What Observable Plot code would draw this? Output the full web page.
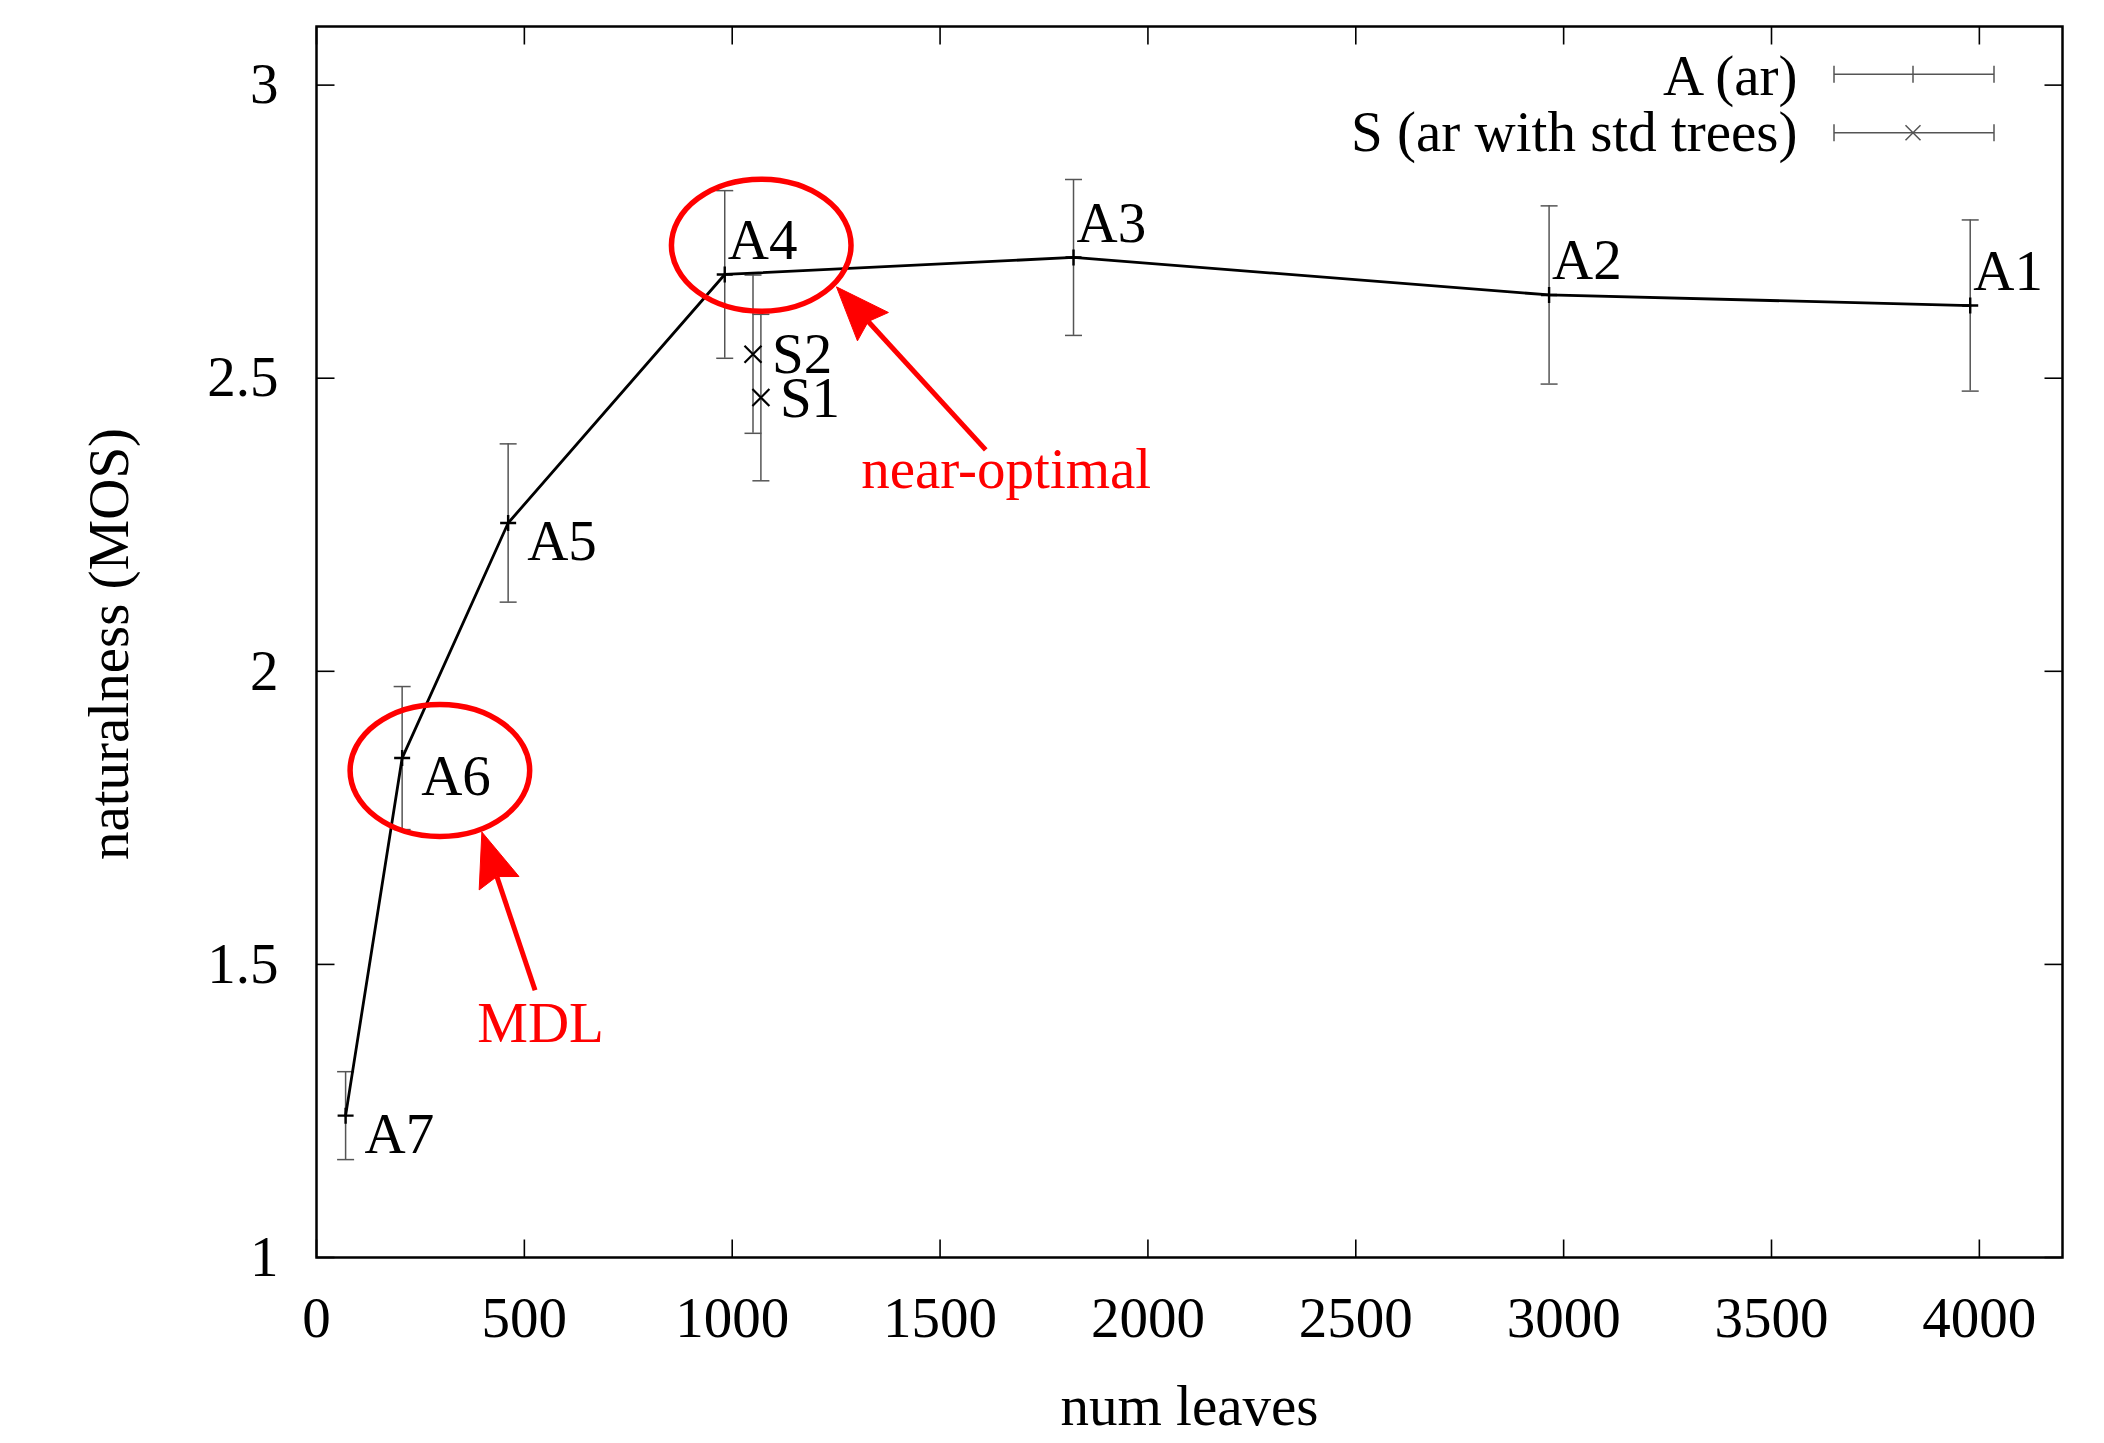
<!DOCTYPE html>
<html>
<head>
<meta charset="utf-8">
<script src="https://cdn.jsdelivr.net/npm/d3@7"></script>
<script src="https://cdn.jsdelivr.net/npm/@observablehq/plot@0.6"></script>
<style>
  html, body { margin: 0; padding: 0; background: #fff; }
  #chart svg { display: block; }
</style>
</head>
<body>
<div id="chart"></div>
<script>
// ---- data: series A (ar) ----
const aNames  = ["A7", "A6", "A5", "A4", "A3", "A2", "A1"];
const aLeaves = [70, 206, 461, 982, 1821, 2965, 3978];
const aMos    = [1.242, 1.852, 2.253, 2.677, 2.706, 2.642, 2.624];
const aErr    = [0.075, 0.122, 0.135, 0.143, 0.133, 0.152, 0.146];

// ---- data: series S (ar with std trees) ----
const sNames  = ["S2", "S1"];
const sLeaves = [1050, 1069];
const sMos    = [2.541, 2.467];
const sErr    = [0.135, 0.142];

// point labels drawn above their point (others sit below-right)
const labelsAbove = ["A4", "A3", "A2", "A1"];

// ---- axes ----
const xDomain = [0, 4200];
const yDomain = [1, 3.1];
const xTicks = [0, 500, 1000, 1500, 2000, 2500, 3000, 3500, 4000];
const yTicks = [1, 1.5, 2, 2.5, 3];
const xTitle = "num leaves";
const yTitle = "naturalness (MOS)";
const seriesNames = ["A (ar)", "S (ar with std trees)"];

// ---- annotations (data units) ----
const ellipseCx = [1071, 298];
const ellipseCy = [2.726, 1.830];
const ellipseRx = [216, 216];
const ellipseRy = [0.1126, 0.1126];
const arrowX1 = [1611, 527];
const arrowY1 = [2.377, 1.455];
const arrowX2 = [1252, 399];
const arrowY2 = [2.655, 1.725];
const noteText = ["near-optimal", "MDL"];
const noteX = [1659, 539];
const noteY = [2.344, 1.399];

// ---- tables ----
const aData = aNames.map((name, i) => ({name, leaves: aLeaves[i], mos: aMos[i], err: aErr[i]}));
const sData = sNames.map((name, i) => ({name, leaves: sLeaves[i], mos: sMos[i], err: sErr[i]}));
const notes = noteText.map((text, i) => ({text, x: noteX[i], y: noteY[i]}));

const FONT = "Liberation Serif";
const FS = 57;
const ERR = "#555";
const RED = "#ff0000";

// custom symbols
const sym = (segs) => ({draw(c) { for (const [x1, y1, x2, y2] of segs) { c.moveTo(x1, y1); c.lineTo(x2, y2); } }});
const plusSym  = sym([[-8, 0, 8, 0], [0, -8, 0, 8]]);
const timesSym = sym([[-8.5, -8.5, 8.5, 8.5], [-8.5, 8.5, 8.5, -8.5]]);
const capSym   = sym([[-8.5, 0, 8.5, 0]]);
const TL = 18;
const tickUp    = sym([[0, 0, 0, -TL]]);
const tickDown  = sym([[0, 0, 0, TL]]);
const tickRight = sym([[0, 0, TL, 0]]);
const tickLeft  = sym([[0, 0, -TL, 0]]);

function customMark(draw) {
  return function (...args) {
    const scales = args.find(a => a && typeof a.x === "function" && typeof a.y === "function");
    const dims = args.find(a => a && typeof a.width === "number" && typeof a.marginLeft === "number");
    const g = d3.create("svg:g");
    draw(g, scales, dims);
    return g.node();
  };
}

const ellipses = customMark((g, s) => {
  ellipseCx.forEach((cx, i) => {
    const px = s.x(cx), py = s.y(ellipseCy[i]);
    g.append("ellipse")
      .attr("cx", px).attr("cy", py)
      .attr("rx", Math.abs(s.x(cx + ellipseRx[i]) - px))
      .attr("ry", Math.abs(s.y(ellipseCy[i] + ellipseRy[i]) - py))
      .attr("fill", "none").attr("stroke", RED).attr("stroke-width", 5.5);
  });
});

const arrows = customMark((g, s) => {
  const L = 54, W = 21, N = 47;
  arrowX1.forEach((x1v, i) => {
    const x1 = s.x(x1v), y1 = s.y(arrowY1[i]);
    const x2 = s.x(arrowX2[i]), y2 = s.y(arrowY2[i]);
    const len = Math.hypot(x2 - x1, y2 - y1);
    const ux = (x2 - x1) / len, uy = (y2 - y1) / len;
    const nx = -uy, ny = ux;
    g.append("line")
      .attr("x1", x1).attr("y1", y1)
      .attr("x2", x2 - ux * N).attr("y2", y2 - uy * N)
      .attr("stroke", RED).attr("stroke-width", 5);
    const pts = [
      [x2, y2],
      [x2 - ux * L + nx * W, y2 - uy * L + ny * W],
      [x2 - ux * N, y2 - uy * N],
      [x2 - ux * L - nx * W, y2 - uy * L - ny * W]
    ];
    g.append("path").attr("d", "M" + pts.map(p => p.join(",")).join("L") + "Z")
      .attr("fill", RED).attr("stroke", RED).attr("stroke-width", 1);
  });
});

const legendSamples = customMark((g, s, d) => {
  const right = d.width - d.marginRight, top = d.marginTop;
  const rows = [{dy: 48.3, sym: "plus"}, {dy: 106.7, sym: "times"}];
  const xa = right - 228, xb = right - 68, xm = right - 149;
  const gg = g.attr("fill", "none").attr("stroke", ERR).attr("stroke-width", 1.5);
  for (const r of rows) {
    const y = top + r.dy;
    gg.append("line").attr("x1", xa).attr("x2", xb).attr("y1", y).attr("y2", y);
    gg.append("line").attr("x1", xa).attr("x2", xa).attr("y1", y - 8.5).attr("y2", y + 8.5);
    gg.append("line").attr("x1", xb).attr("x2", xb).attr("y1", y - 8.5).attr("y2", y + 8.5);
    if (r.sym === "plus") {
      gg.append("line").attr("x1", xm).attr("x2", xm).attr("y1", y - 8.5).attr("y2", y + 8.5);
    } else {
      gg.append("path").attr("d", `M${xm-7.5},${y-7.5}L${xm+7.5},${y+7.5}M${xm-7.5},${y+7.5}L${xm+7.5},${y-7.5}`);
    }
  }
});

const errMarks = (data) => [
  Plot.ruleX(data, {x: "leaves", y1: d => d.mos - d.err, y2: d => d.mos + d.err, stroke: ERR, strokeWidth: 1.5}),
  Plot.dot(data, {x: "leaves", y: d => d.mos - d.err, symbol: capSym, fill: "none", stroke: ERR, strokeWidth: 1.5}),
  Plot.dot(data, {x: "leaves", y: d => d.mos + d.err, symbol: capSym, fill: "none", stroke: ERR, strokeWidth: 1.5})
];

const chart = Plot.plot({
  width: 2104,
  height: 1443,
  marginLeft: 316,
  marginRight: 42,
  marginTop: 26,
  marginBottom: 186,
  style: {background: "white", fontFamily: FONT, color: "black"},
  x: {domain: xDomain, label: null},
  y: {domain: yDomain, label: null},
  marks: [
    Plot.axisX({ticks: xTicks, tickSize: 0, tickPadding: 39, tickFormat: d => String(d), fontSize: FS, fontFamily: FONT, label: null}),
    Plot.axisY({ticks: yTicks, tickSize: 0, tickPadding: 38, tickFormat: d => String(d), fontSize: FS, fontFamily: FONT, label: null}),
    // inner (mirrored) ticks
    Plot.dot(xTicks, {x: d => d, y: () => yDomain[0], symbol: tickUp, fill: "none", stroke: "black", strokeWidth: 1.6}),
    Plot.dot(xTicks, {x: d => d, y: () => yDomain[1], symbol: tickDown, fill: "none", stroke: "black", strokeWidth: 1.6}),
    Plot.dot(yTicks, {y: d => d, x: () => xDomain[0], symbol: tickRight, fill: "none", stroke: "black", strokeWidth: 1.6}),
    Plot.dot(yTicks, {y: d => d, x: () => xDomain[1], symbol: tickLeft, fill: "none", stroke: "black", strokeWidth: 1.6}),
    // error bars
    ...errMarks(aData),
    ...errMarks(sData),
    // series A line and markers
    Plot.line(aData, {x: "leaves", y: "mos", stroke: "black", strokeWidth: 2.8}),
    Plot.dot(aData, {x: "leaves", y: "mos", symbol: plusSym, fill: "none", stroke: "black", strokeWidth: 2.4}),
    // series S markers
    Plot.dot(sData, {x: "leaves", y: "mos", symbol: timesSym, fill: "none", stroke: "black", strokeWidth: 2.2}),
    // point labels
    Plot.text(aData.filter(d => !labelsAbove.includes(d.name)), {x: "leaves", y: "mos", text: "name", textAnchor: "start", dx: 19, dy: 19, fontSize: FS, fontFamily: FONT, fill: "black"}),
    Plot.text(aData.filter(d => labelsAbove.includes(d.name)), {x: "leaves", y: "mos", text: "name", textAnchor: "start", dx: 3, dy: -34, fontSize: FS, fontFamily: FONT, fill: "black"}),
    Plot.text(sData, {x: "leaves", y: "mos", text: "name", textAnchor: "start", dx: 19, dy: 1, fontSize: FS, fontFamily: FONT, fill: "black"}),
    // annotations
    ellipses,
    arrows,
    Plot.text(notes, {x: "x", y: "y", text: "text", fill: RED, fontSize: FS, fontFamily: FONT}),
    // legend
    Plot.text([seriesNames[0]], {frameAnchor: "top-right", text: d => d, textAnchor: "end", lineAnchor: "middle", dx: -265, dy: 50, fontSize: FS, fontFamily: FONT, fill: "black"}),
    Plot.text([seriesNames[1]], {frameAnchor: "top-right", text: d => d, textAnchor: "end", lineAnchor: "middle", dx: -265, dy: 106, fontSize: FS, fontFamily: FONT, fill: "black"}),
    legendSamples,
    // axis titles
    Plot.text([xTitle], {frameAnchor: "bottom", text: d => d, textAnchor: "middle", lineAnchor: "bottom", dy: 167, fontSize: FS, fontFamily: FONT, fill: "black"}),
    Plot.text([yTitle], {frameAnchor: "left", text: d => d, textAnchor: "middle", lineAnchor: "bottom", rotate: -90, dx: -189, dy: 2, fontSize: FS, fontFamily: FONT, fill: "black"}),
    // frame
    Plot.frame({stroke: "black", strokeWidth: 2.5})
  ]
});

document.getElementById("chart").appendChild(chart);
</script>
</body>
</html>
